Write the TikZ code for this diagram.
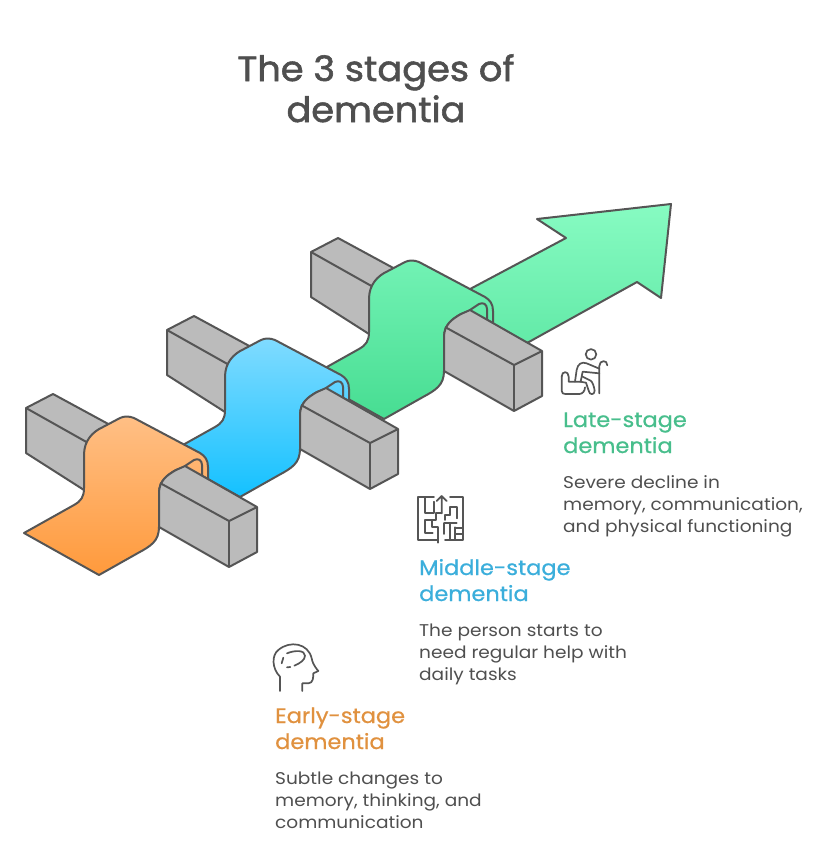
\documentclass[tikz,border=0pt]{standalone}
\usepackage{fontspec}
\setmainfont{Poppins}
\newfontfamily\titlefont[FakeStretch=1.05,FakeBold=1.6]{Poppins}
\newfontfamily\headfont[FakeStretch=1.07,FakeBold=0.7]{Poppins}
\definecolor{ink}{HTML}{555555}
\definecolor{txt}{HTML}{4F4F4F}
\definecolor{beam}{HTML}{BBBBBB}
\definecolor{lateC}{HTML}{48BE8C}
\definecolor{midC}{HTML}{3BAEDB}
\definecolor{earlyC}{HTML}{E0913F}
\definecolor{gA}{HTML}{87FBC2}
\definecolor{gB}{HTML}{5FE8A5}
\definecolor{gC}{HTML}{72F2B4}
\definecolor{gD}{HTML}{47DD92}
\definecolor{bA}{HTML}{80DBFF}
\definecolor{bB}{HTML}{14C1FF}
\definecolor{oA}{HTML}{FFBF85}
\definecolor{oB}{HTML}{FF9A3C}
\newcommand\backbeamshape{
  \path[solid edge,fill=beam] (26,408) -- (53,394) -- (112,426) -- (90,480) -- (84,490) -- (26,453) -- cycle;
  \draw[solid edge] (26,408) -- (90,444);
}
\newcommand\ribbonshape[2]{
  \path[solid edge,top color=#1,bottom color=#2]
    (24,533) -- (99,575) -- (138,553) .. controls (151,546) and (159,541) .. (159,527)
    -- (159,493) .. controls (159,481) and (167,475) .. (176,470) -- (185,467) -- (208,479)
    -- (208,467) .. controls (208,460) and (205,456) .. (200,453)
    -- (134,418) .. controls (129,416) and (124,416) .. (120,418)
    -- (103,427) .. controls (92,432) and (84,441) .. (84,455)
    -- (84,488) .. controls (84,497) and (81,501) .. (74,505) -- cycle;
}
\newcommand\frontbeamshape{
  \draw[solid edge] (185,466) -- (194,460) .. controls (198,458) and (202,460) .. (202,465) -- (202,476);
  \path[solid edge,fill=beam] (159,527) -- (159,493) .. controls (159,481) and (167,475) .. (176,470)
    -- (185,466) -- (257,507) -- (257,552) -- (229,567) -- cycle;
  \draw[solid edge] (160,483) -- (229,521) -- (257,507);
  \draw[solid edge] (229,521) -- (229,567);
}
\tikzset{
  solid edge/.style={draw=ink,line width=2pt,line join=round},
  icon line/.style={draw=ink,line width=1.7pt,line cap=round,line join=round,fill=none},
  title text/.style={anchor=base,inner sep=0pt,text=txt,font=\titlefont\fontsize{35}{35}\selectfont},
  head text/.style={anchor=base west,inner sep=0pt,font=\headfont\fontsize{21}{21}\selectfont},
  body text/.style={anchor=base west,inner sep=0pt,text=txt,font=\fontsize{17}{17}\selectfont\addfontfeature{FakeStretch=1.09}},
}
\begin{document}
\begin{tikzpicture}[x=1pt,y=-1pt]
\useasboundingbox (0,0) rectangle (829,846);
% green stage
\begin{scope}[shift={(285,-156)}]
  \backbeamshape
\end{scope}
\path[solid edge,top color=gA,bottom color=gB]
  (440,305) -- (566,238) -- (537,219) -- (671,204) -- (661,298) -- (637,282) -- (500,358) -- cycle;
\begin{scope}[shift={(285,-156)}]
  \ribbonshape{gC}{gD}
  \frontbeamshape
\end{scope}
% blue stage
\begin{scope}[shift={(141,-78)}]
  \backbeamshape
  \ribbonshape{bA}{bB}
  \frontbeamshape
\end{scope}
% orange stage
\backbeamshape
\ribbonshape{oA}{oB}
\frontbeamshape
% title
\node[title text] (title1) at (376,81) {The 3 stages of};
\node[title text] (title2) at (376,122) {dementia};
% late
\node[head text,text=lateC] (lateA) at (563,427) {Late-stage};
\node[head text,text=lateC] (lateB) at (563,453) {dementia};
\node[body text] (lateC1) at (563,488) {Severe decline in};
\node[body text] (lateC2) at (563,510) {memory, communication,};
\node[body text] (lateC3) at (563,532) {and physical functioning};
% middle
\node[head text,text=midC] (midA) at (419,575) {Middle-stage};
\node[head text,text=midC] (midB) at (419,601) {dementia};
\node[body text] (midC1) at (419,636) {The person starts to};
\node[body text] (midC2) at (419,658) {need regular help with};
\node[body text] (midC3) at (419,680) {daily tasks};
% early
\node[head text,text=earlyC] (earlyA) at (275,723) {Early-stage};
\node[head text,text=earlyC] (earlyB) at (275,749) {dementia};
\node[body text] (earlyC1) at (275,784) {Subtle changes to};
\node[body text] (earlyC2) at (275,806) {memory, thinking, and};
\node[body text] (earlyC3) at (275,828) {communication};
% late icon
\begin{scope}[shift={(550,340)},x=0.3333pt,y=-0.3333pt]
\draw[icon line] (123,43) circle (5.3pt);
\draw[icon line] (148,160) -- (148,78) .. controls (148,60) and (172,58) .. (172,76);
\draw[icon line] (35,110) .. controls (35,92) and (56,92) .. (56,110) -- (56,125) -- (90,125);
\draw[icon line] (35,110) -- (35,152) .. controls (35,160) and (40,162) .. (46,162) -- (88,162) .. controls (98,162) and (105,152) .. (105,142);
\draw[icon line] (75,125) -- (80,90) .. controls (83,72) and (95,64) .. (110,70) -- (148,86);
\draw[icon line] (92,125) -- (98,95) -- (148,100);
\draw[icon line] (98,110) -- (122,122) .. controls (128,126) and (132,140) .. (134,152) .. controls (134,166) and (118,166) .. (116,152) -- (108,128) -- (90,125);
\end{scope}
% maze icon
\begin{scope}[shift={(410,490)},x=0.3333pt,y=-0.3333pt]
\draw[icon line] (72,22) -- (25,22) -- (25,150) -- (80,150);
\draw[icon line] (46,22) -- (46,70) -- (72,70) -- (72,35);
\draw[icon line] (95,70) -- (95,18) (80,33) -- (95,18) -- (110,33);
\draw[icon line] (120,22) -- (158,22) -- (158,150) -- (105,150);
\draw[icon line] (95,70) -- (78,70) -- (78,90) -- (46,90) -- (46,130) -- (68,130);
\draw[icon line] (65,90) -- (65,112) -- (85,112) -- (85,158);
\draw[icon line] (120,75) -- (120,52) -- (140,52) -- (140,85);
\draw[icon line] (120,75) -- (105,75) -- (105,90);
\draw[icon line] (102,100) -- (102,132) (102,100) -- (140,100);
\draw[icon line] (120,100) -- (120,150);
\draw[icon line] (136,112) -- (136,150) (136,115) -- (158,115) (136,132) -- (158,132);
\end{scope}
% head icon
\begin{scope}[shift={(265,635)},x=0.3333pt,y=-0.3333pt]
\draw[icon line] (45,168) -- (45,125) .. controls (20,100) and (20,60) .. (40,45) .. controls (75,15) and (130,25) .. (140,70) .. controls (142,80) and (145,90) .. (160,108) -- (145,115) .. controls (145,125) and (145,145) .. (130,145) -- (112,145) -- (112,168);
\draw[icon line] (50,85) -- (55,68);
\draw[icon line] (66,55) .. controls (90,45) and (120,45) .. (120,62) .. controls (120,75) and (105,85) .. (88,92);
\draw[icon line] (66,97) -- (76,96);
\end{scope}
\end{tikzpicture}
\end{document}
